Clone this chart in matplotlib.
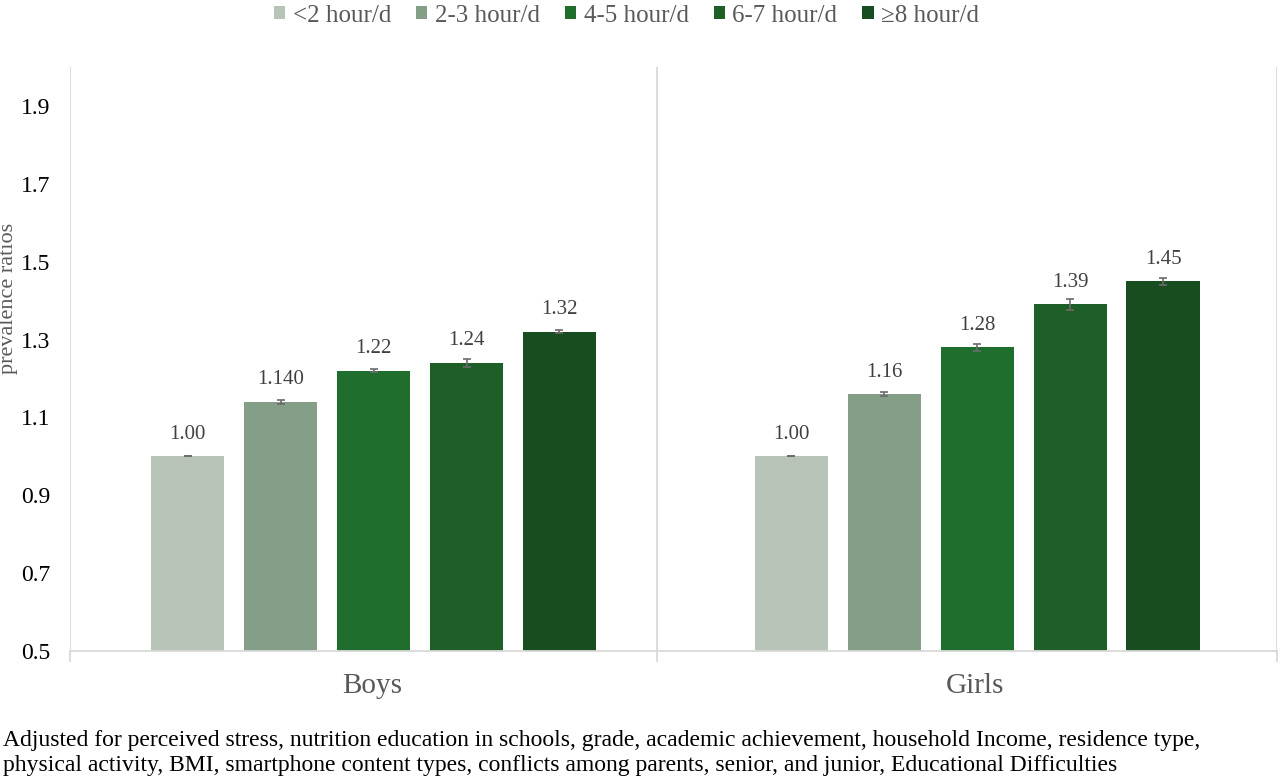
import numpy as np
import matplotlib.pyplot as plt

plt.rcParams['font.family'] = ['Liberation Serif', 'DejaVu Serif']

# data
groups = ['Boys', 'Girls']
series = ['<2 hour/d', '2-3 hour/d', '4-5 hour/d', '6-7 hour/d', '\u22658 hour/d']
boys = [1.00, 1.140, 1.22, 1.24, 1.32]
girls = [1.00, 1.16, 1.28, 1.39, 1.45]
boys_err = [0.0, 0.005, 0.004, 0.010, 0.004]
girls_err = [0.0, 0.005, 0.009, 0.013, 0.009]
boys_labels = ['1.00', '1.140', '1.22', '1.24', '1.32']
girls_labels = ['1.00', '1.16', '1.28', '1.39', '1.45']
colors = ['#b7c4b7', '#859e87', '#206e2d', '#1e5e27', '#184d20']
footnote = ('Adjusted for perceived stress, nutrition education in schools, grade, academic achievement, household Income, residence type,\n'
            'physical activity, BMI, smartphone content types, conflicts among parents, senior, and junior, Educational Difficulties')

values = np.array([boys, girls])
errs = np.array([boys_err, girls_err])
labels = [boys_labels, girls_labels]

fig = plt.figure(figsize=(12.8, 7.78), dpi=100)
ax = fig.add_axes([0.0547, 0.1632, 0.943, 0.7507])

x = np.arange(len(groups))
step = 0.154
width = 0.121
for i, name in enumerate(series):
    pos = x + (i - 2) * step + 0.003
    ax.bar(pos, values[:, i] - 0.5, width, bottom=0.5, color=colors[i], label=name, zorder=2)
    ax.errorbar(pos, values[:, i], yerr=errs[:, i], fmt='none', ecolor='#6b6b6b',
                elinewidth=1.2, capsize=3, capthick=1.2, zorder=3)
    for j in range(len(groups)):
        ax.annotate(labels[j][i], (pos[j], values[j, i]), xytext=(0, 9),
                    textcoords='offset points', ha='center', va='bottom',
                    fontsize=15, color='#404040')

ax.set_ylim(0.5, 2.0)
ax.set_xlim(-0.5, 1.5)
ticks = np.arange(0.5, 1.91, 0.2)
ax.set_yticks(ticks)
ax.set_yticklabels(['%.1f' % v for v in ticks], fontsize=17, color='black')
ax.tick_params(axis='y', length=0, pad=14)

# category separators (middle one sits a bit left of centre in the original)
for xv in [-0.5, 0.473, 1.5]:
    ax.axvline(xv, ymin=0, ymax=1, color='#d9d9d9', lw=1.3, zorder=1)
    ax.plot([xv, xv], [0.5, 0.475], color='#d9d9d9', lw=1.3, clip_on=False)
ax.set_xticks(x)
ax.set_xticklabels(groups, fontsize=21, color='#595959')
ax.tick_params(axis='x', length=0, pad=16)

for s in ['top', 'right', 'left']:
    ax.spines[s].set_visible(False)
ax.spines['bottom'].set_color('#d9d9d9')
ax.spines['bottom'].set_linewidth(1.3)

fig.text(9 / 1280, 1 - 298 / 778, 'prevalence ratios', rotation=90, ha='center', va='center',
         fontsize=16, color='#595959')

ax.legend(loc='center', bbox_to_anchor=(0.461, 1.088), ncol=5,
          frameon=False, fontsize=18, handlelength=0.45, handleheight=0.45,
          columnspacing=1.0, handletextpad=0.3, labelcolor='#595959')

fig.text(0.002, 0.003, footnote, fontsize=17, ha='left', va='bottom', linespacing=1.2)

fig.savefig('out.png', dpi=100)
